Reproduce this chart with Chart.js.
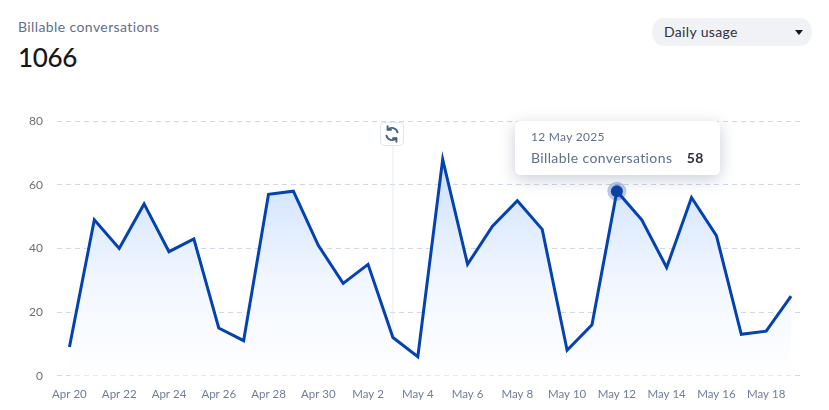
<!DOCTYPE html>
<html>
<head>
<meta charset="utf-8">
<style>
  html, body { margin: 0; padding: 0; background: #fff; }
  body { width: 829px; height: 410px; position: relative; overflow: hidden; font-family: Lato, sans-serif; }
  #title { position: absolute; left: 18px; top: 18px; font-size: 14px; line-height: 18px; color: #5f6f8d; letter-spacing: 0.4px; }
  #total { position: absolute; left: 18px; top: 41px; font-size: 26px; line-height: 32px; color: #14161a; font-weight: 500; letter-spacing: -0.3px; }
  #picker { position: absolute; left: 652px; top: 18px; width: 160px; height: 28px; border-radius: 13px; background: #f1f2f5; color: #2c313b; font-size: 14px; line-height: 28px; text-indent: 12px; letter-spacing: 0.35px; }
  #picker i { position: absolute; right: 9px; top: 12px; border: 4.5px solid transparent; border-top: 5px solid #16181d; border-bottom: 0; }
  #wrap { position: absolute; left: 0; top: 100px; width: 829px; height: 310px; }
  #reset { position: absolute; width: 24px; height: 24px; box-sizing: border-box; border: 1px solid #dfe5ee; border-radius: 4px; background: #fff; }
  #tip { position: absolute; width: 205px; height: 54px; box-sizing: border-box; background: #fff; border-radius: 5px; box-shadow: 0 4px 16px rgba(60,75,105,.28); padding: 8px 16px; color: #5f6f8d; }
  #tipDate { font-size: 12px; line-height: 16px; letter-spacing: .3px; }
  #tipRow { display: flex; justify-content: space-between; font-size: 14px; line-height: 18px; margin-top: 4px; letter-spacing: .4px; }
  #tipRow b { color: #2c2f36; font-weight: 700; }
</style>
</head>
<body>
<div id="title">Billable conversations</div>
<div id="total">1066</div>
<div id="picker">Daily usage<i></i></div>
<div id="wrap"><canvas id="usageChart" width="829" height="310"></canvas></div>
<div id="reset"><svg width="22" height="22" viewBox="0 0 22 22" fill="none" stroke="#4a5f85" stroke-width="1.9" stroke-linecap="round" stroke-linejoin="round"><path d="M16.6 9.4A6 6 0 0 0 6.6 6.6"/><path d="M5.4 12.6A6 6 0 0 0 15.4 15.4"/><path d="M6.6 3.2V6.8H10"/><path d="M15.4 18.8V15.2H12"/></svg></div>
<div id="tip"><div id="tipDate"></div><div id="tipRow"><span id="tipName"></span><b id="tipValue"></b></div></div>
<script src="https://cdn.jsdelivr.net/npm/chart.js@4"></script>
<script>
const days = ['Apr 20','Apr 21','Apr 22','Apr 23','Apr 24','Apr 25','Apr 26','Apr 27','Apr 28','Apr 29','Apr 30','May 1','May 2','May 3','May 4','May 5','May 6','May 7','May 8','May 9','May 10','May 11','May 12','May 13','May 14','May 15','May 16','May 17','May 18','May 19'];
const conversations = [9,49,40,54,39,43,15,11,57,58,41,29,35,12,6,68,35,47,55,46,8,16,58,49,34,56,44,13,14,25];
const seriesName = 'Billable conversations';
const yTicks = [0,20,40,60,80];
const activeDay = 'May 12';
const markerDay = 'May 3';

// vertical marker line under the reset button
const markerLine = {
  id: 'markerLine',
  beforeDatasetsDraw(chart) {
    const { ctx, scales: { x, y } } = chart;
    const px = x.getPixelForValue(days.indexOf(markerDay));
    ctx.save();
    ctx.strokeStyle = '#e6ebf2';
    ctx.lineWidth = 1;
    ctx.beginPath();
    ctx.moveTo(px, y.getPixelForValue(80) + 22);
    ctx.lineTo(px, y.getPixelForValue(0));
    ctx.stroke();
    ctx.restore();
  },
  afterLayout(chart) {
    const { x, y } = chart.scales;
    const btn = document.getElementById('reset');
    btn.style.left = (x.getPixelForValue(days.indexOf(markerDay)) - 13) + 'px';
    btn.style.top = (100 + y.getPixelForValue(80) + 1) + 'px';
  }
};

// soft ring behind the hovered point
const pointHalo = {
  id: 'pointHalo',
  afterDatasetsDraw(chart) {
    const active = chart.getActiveElements()[0];
    if (!active) return;
    const { ctx } = chart;
    ctx.save();
    ctx.beginPath();
    ctx.arc(active.element.x, active.element.y, 9.5, 0, Math.PI * 2);
    ctx.fillStyle = 'rgba(11,65,170,.28)';
    ctx.fill();
    ctx.beginPath();
    ctx.arc(active.element.x, active.element.y, 6, 0, Math.PI * 2);
    ctx.fillStyle = '#0a43a8';
    ctx.fill();
    ctx.restore();
  }
};

const placeTip = ({ chart, tooltip }) => {
  const tip = document.getElementById('tip');
  if (!tooltip.dataPoints || !tooltip.dataPoints.length) return;
  const p = tooltip.dataPoints[0];
  document.getElementById('tipDate').textContent = p.label.replace(/(\w+) (\d+)/, '$2 $1 2025');
  document.getElementById('tipName').textContent = seriesName;
  document.getElementById('tipValue').textContent = p.formattedValue;
  tip.style.left = (p.element.x - 102) + 'px';
  tip.style.top = (100 + p.element.y - 70) + 'px';
};

const chart = new Chart(document.getElementById('usageChart'), {
  type: 'line',
  data: {
    labels: days,
    datasets: [{
      label: seriesName,
      data: conversations,
      borderColor: '#0342b0',
      borderWidth: 3,
      tension: 0,
      fill: 'origin',
      backgroundColor: (c) => {
        const area = c.chart.chartArea;
        if (!area) return 'transparent';
        const g = c.chart.ctx.createLinearGradient(0, area.top + 40, 0, area.bottom);
        g.addColorStop(0, '#cde0fd');
        g.addColorStop(0.55, '#f1f6ff');
        g.addColorStop(1, '#ffffff');
        return g;
      },
      pointRadius: 0,
      pointHoverRadius: 0
    }]
  },
  options: {
    responsive: false,
    animation: false,
    events: [],
    layout: { padding: { left: 0, right: 25.5, top: 19, bottom: 4.5 } },
    plugins: {
      legend: { display: false },
      tooltip: { enabled: false, external: placeTip }
    },
    scales: {
      x: {
        offset: true,
        grid: { display: false },
        border: { display: false },
        ticks: {
          autoSkip: false,
          maxRotation: 0,
          padding: 4,
          color: '#6f7d99',
          font: { family: 'Lato', size: 11.5 },
          callback: (v, i) => i % 2 === 0 ? days[i] : ''
        }
      },
      y: {
        min: 0,
        max: 80,
        afterBuildTicks: (axis) => { axis.ticks = yTicks.map(v => ({ value: v })); },
        grid: { color: '#cfd8e6', drawTicks: false },
        border: { display: false, dash: [5, 4] },
        afterFit: (axis) => { axis.width = 57; },
        ticks: { padding: 14, color: '#6d6f75', font: { family: 'Lato', size: 12 } }
      }
    }
  },
  plugins: [markerLine, pointHalo]
});

const activeIndex = days.indexOf(activeDay);
chart.setActiveElements([{ datasetIndex: 0, index: activeIndex }]);
chart.tooltip.setActiveElements([{ datasetIndex: 0, index: activeIndex }], { x: 0, y: 0 });
chart.update();
</script>
</body>
</html>
